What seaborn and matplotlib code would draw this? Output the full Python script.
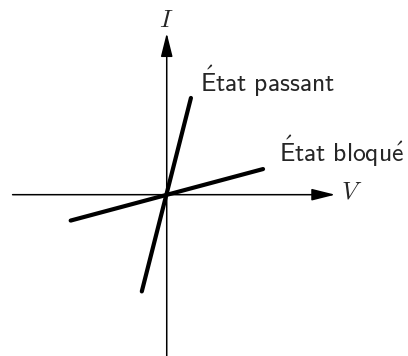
import matplotlib
matplotlib.use('Agg')
import seaborn as sns
import matplotlib.pyplot as plt

# Characteristic lines (V, I) in arbitrary units, through the origin
passant_v = [-1.03, 1.00]
passant_i = [-4.00, 4.00]
bloque_v = [-3.97, 3.98]
bloque_i = [-1.07, 1.06]

labels = ['État passant', 'État bloqué']

sns.set_theme(style='white')
plt.rcParams['mathtext.fontset'] = 'cm'
plt.rcParams['font.family'] = ['cmss10', 'DejaVu Sans']

fig = plt.figure(figsize=(4.08, 3.56), dpi=100)
ax = fig.add_axes([0, 0, 1, 1])
ax.set_xlim(-6.89, 9.97)
ax.set_ylim(-6.67, 8.05)
ax.axis('off')

# axes with long narrow arrow heads
arrow = dict(arrowstyle='-|>,head_length=0.8,head_width=0.2', color='black',
             lw=1.1, mutation_scale=18, shrinkA=0, shrinkB=0)
ax.annotate('', xy=(6.96, 0), xytext=(-6.37, 0), arrowprops=arrow)
ax.annotate('', xy=(0, 6.68), xytext=(0, -6.67), arrowprops=arrow)
ax.text(7.2, 0.12, r'$V$', fontsize=18, ha='left', va='center')
ax.text(0.0, 7.2, r'$I$', fontsize=18, ha='center', va='center')

sns.lineplot(x=passant_v, y=passant_i, ax=ax, color='black', lw=3, estimator=None)
sns.lineplot(x=bloque_v, y=bloque_i, ax=ax, color='black', lw=3, estimator=None)


def sans(s):
    # render in computer modern sans via mathtext, so accents come out right
    s = s.replace('É', r'\acute{E}').replace('é', r'\acute{e}').replace(' ', r'\ ')
    return r'$\mathsf{' + s + '}$'


ax.text(1.38, 4.23, sans(labels[0]), fontsize=18.5, ha='left', va='baseline')
ax.text(4.62, 1.37, sans(labels[1]), fontsize=18.5, ha='left', va='baseline')

fig.savefig('out.png', dpi=100)
